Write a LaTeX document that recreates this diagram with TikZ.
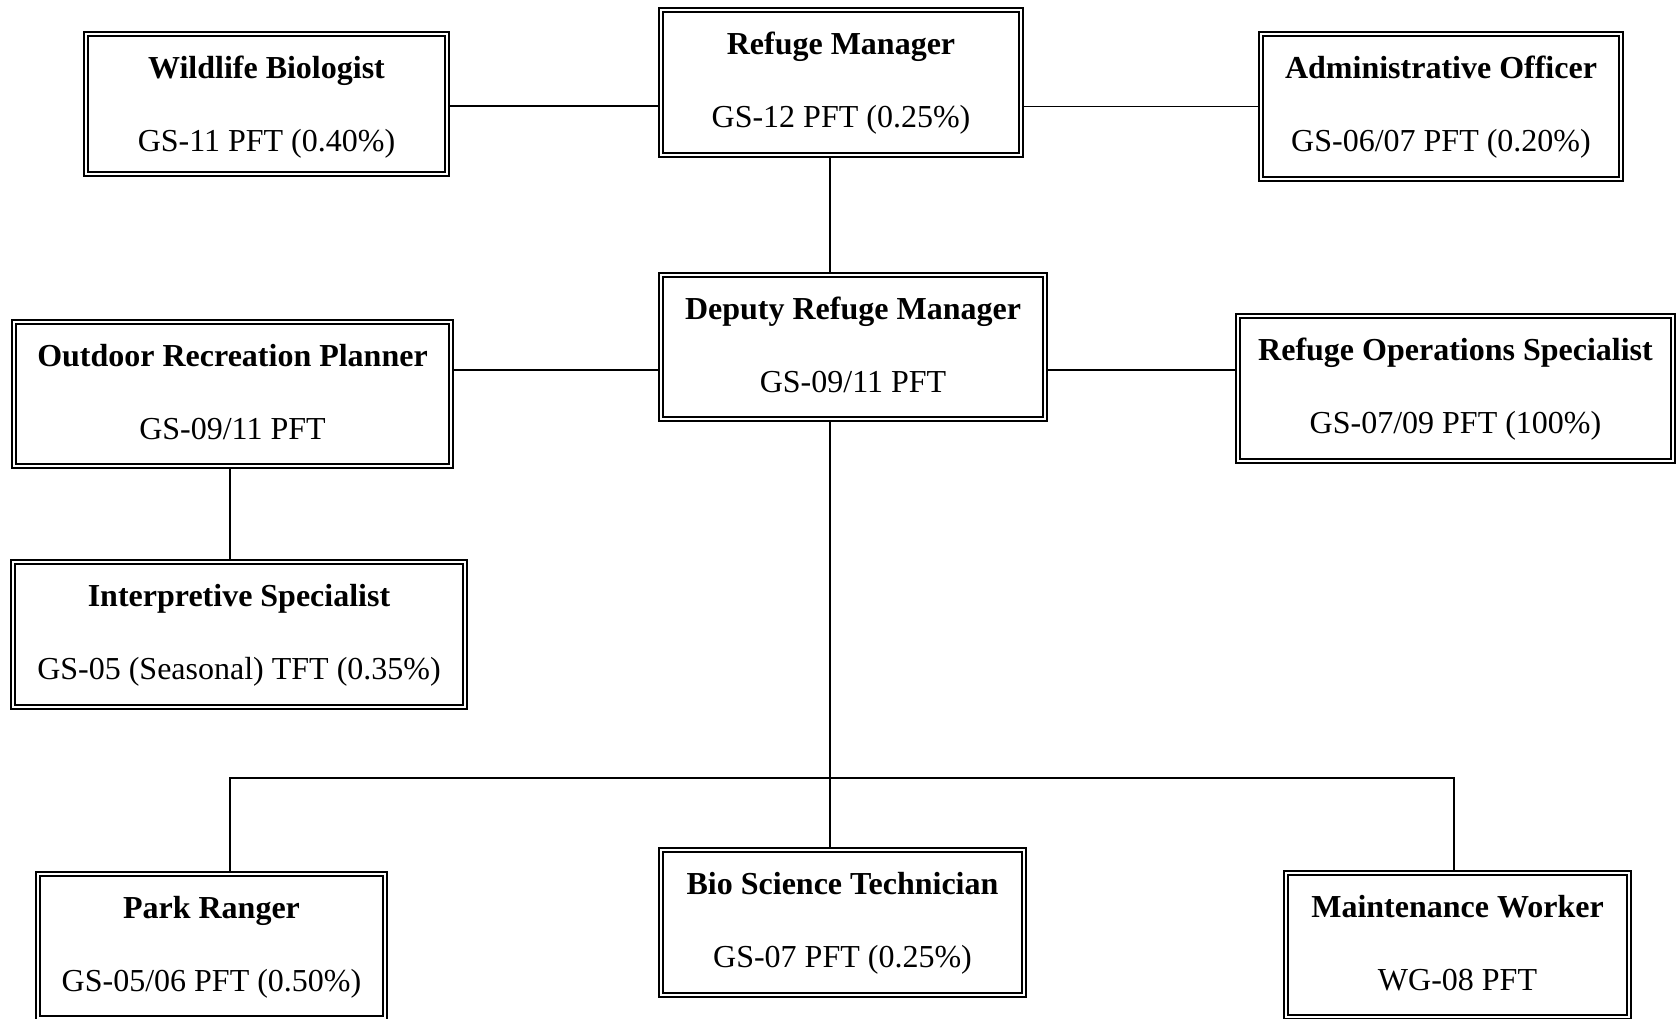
\documentclass[tikz,border=0pt]{standalone}
\usepackage{fontspec}
\setmainfont{Liberation Serif}
\tikzset{
  outerbox/.style={draw, line width=2.8pt, rectangle, inner sep=0pt},
  innerline/.style={line width=1.6pt},
  titletext/.style={font=\fontsize{32}{38}\selectfont\bfseries, inner sep=0pt},
  subtext/.style={font=\fontsize{32}{38}\selectfont, inner sep=0pt},
  link/.style={line width=1.5pt}
}
\newcommand\orgbox[7]{%
  \node[outerbox, minimum width=#4pt, minimum height=#5pt] (#1) at (#2,#3) {};
  \draw[innerline] ([shift={(5.5pt,-5.5pt)}]#1.north west) rectangle ([shift={(-5.5pt,5.5pt)}]#1.south east);
  \node[titletext, anchor=base] (#1-t) at ([yshift=-48pt]#1.north) {#6};
  \node[subtext, anchor=base] (#1-s) at ([yshift=-121pt]#1.north) {#7};
}
\begin{document}
\begin{tikzpicture}[x=1pt,y=-1pt]
\useasboundingbox (0,0) rectangle (1678,1018);
\clip (0,0) rectangle (1678,1018);

\orgbox{wb}{266.5}{104}{365}{144}{Wildlife Biologist}{GS-11 PFT (0.40\%)}
\orgbox{rm}{841}{82.5}{364}{149}{Refuge Manager}{GS-12 PFT (0.25\%)}
\orgbox{ao}{1441}{106.5}{364}{149}{Administrative Officer}{GS-06/07 PFT (0.20\%)}
\orgbox{drm}{853}{347}{388}{148}{Deputy Refuge Manager}{GS-09/11 PFT}
\orgbox{orp}{232.5}{394}{441}{148}{Outdoor Recreation Planner}{GS-09/11 PFT}
\orgbox{ros}{1455.5}{388.5}{439}{149}{Refuge Operations Specialist}{GS-07/09 PFT (100\%)}
\orgbox{is}{239}{634.5}{456}{149}{Interpretive Specialist}{GS-05 (Seasonal) TFT (0.35\%)}
\orgbox{pr}{211.5}{946}{351}{148}{Park Ranger}{GS-05/06 PFT (0.50\%)}
\orgbox{bst}{842.5}{922.5}{367}{149}{Bio Science Technician}{GS-07 PFT (0.25\%)}
\orgbox{mw}{1457.5}{945}{347}{148}{Maintenance Worker}{WG-08 PFT}

\coordinate (t) at (830,778);

\draw[link] (wb.east |- 0,106) -- (rm.west |- 0,106);
\draw[link] (rm.east |- ao.west) -- (ao.west);
\draw[link] (rm.south -| t) -- (drm.north -| t);
\draw[link] (orp.east |- 0,370) -- (drm.west |- 0,370);
\draw[link] (drm.east |- 0,370) -- (ros.west |- 0,370);
\draw[link] (orp.south -| 230,0) -- (is.north -| 230,0);
\draw[link] (drm.south -| t) -- (bst.north -| t);
\draw[link] (pr.north -| 230,0) |- (t) -| (mw.north -| 1454,0);
\end{tikzpicture}
\end{document}
